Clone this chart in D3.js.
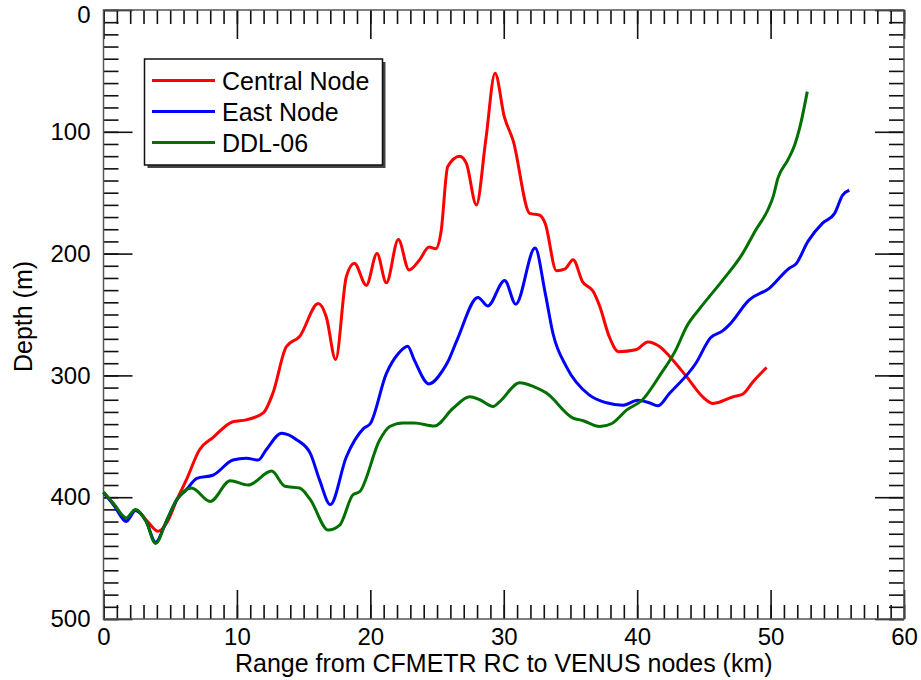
<!DOCTYPE html>
<html>
<head>
<meta charset="utf-8">
<script src="https://cdn.jsdelivr.net/npm/d3@7"></script>
<style>
  body { margin: 0; background: #fff; }
  text { font-family: "Liberation Sans", Arial, Helvetica, sans-serif; fill: #000; }
</style>
</head>
<body>
<div id="my_dataviz"></div>
<script>
// series data: [range (km), depth (m)]
var central = [
  [0, 396], [0.8, 406], [1.7, 418], [2.4, 410.5], [3.3, 420], [4.1, 428], [4.8, 420],
  [5.5, 402], [6.2, 386], [7.2, 361], [8.2, 351], [9.7, 338], [10.7, 336.5], [12.0, 330.5],
  [12.7, 314.5], [13.7, 276.5], [14.7, 268], [16.1, 241], [16.7, 252], [17.4, 287],
  [18.2, 219], [18.8, 208], [19.7, 226], [20.5, 200], [21.2, 224], [22.1, 188.5],
  [22.9, 213.5], [23.7, 205], [24.4, 194.5], [24.9, 196], [25.3, 182], [25.8, 128.5],
  [26.7, 120], [27.2, 126], [27.95, 160], [28.65, 107], [29.35, 52], [30.05, 88],
  [30.7, 107], [31.95, 167], [32.7, 168.5], [33.1, 175], [33.95, 214], [34.6, 212.5],
  [35.2, 205], [35.9, 223], [36.7, 231], [37.2, 243.5], [37.9, 268], [38.6, 280.5],
  [39.9, 279], [40.8, 272.5], [41.7, 276.5], [42.4, 284], [43.7, 301], [44.9, 317.5],
  [45.7, 323], [47.2, 317.5], [47.9, 315.5], [48.7, 305], [49.7, 293.5]
]
var east = [
  [0, 396], [0.8, 407], [1.7, 420], [2.4, 411], [3.2, 420], [3.9, 437], [4.7, 420],
  [5.5, 402], [6.2, 394], [7.0, 384.5], [8.2, 382], [9.7, 369.5], [10.7, 368], [11.6, 369.5],
  [12.2, 361], [13.35, 347.5], [14.5, 353], [15.5, 364], [16.2, 386], [17.0, 406],
  [18.2, 367], [19.5, 343.5], [20.0, 339.5], [21.2, 298.5], [22.1, 282], [22.8, 276],
  [23.3, 287.5], [24.4, 307], [25.45, 295.5], [25.8, 289], [26.5, 271], [28.07, 236],
  [28.8, 243], [30.07, 222], [30.9, 241.5], [32.35, 195.5], [33.1, 232], [33.7, 266],
  [34.7, 293], [36.4, 316], [37.7, 322.5], [38.9, 324.5], [40.05, 320.5], [40.9, 322.5],
  [41.55, 325], [42.4, 315], [44.4, 290], [45.5, 269], [46.4, 263.5], [46.9, 258.5],
  [48.4, 238], [49.9, 228.5], [51.4, 212], [51.9, 208.5], [52.8, 190], [53.9, 175],
  [54.8, 167], [55.4, 152], [55.9, 148]
]
var ddl06 = [
  [0, 396], [0.8, 406], [1.7, 417], [2.4, 410], [3.2, 420], [3.9, 438], [4.7, 420],
  [5.5, 402], [6.6, 392.5], [8.0, 403.5], [9.5, 386.5], [10.85, 390], [12.6, 378.5],
  [13.6, 391], [14.7, 392.5], [15.5, 402], [16.85, 427], [17.7, 423], [18.7, 398],
  [19.2, 395.5], [20.7, 353], [21.45, 342], [22.45, 339], [23.3, 339], [24.8, 341.5],
  [26.2, 327], [27.45, 317.5], [28.2, 320], [29.2, 325.5], [29.7, 321.5], [31.2, 306],
  [32.2, 309], [33.2, 314.5], [35.2, 335], [35.9, 337], [37.2, 342], [38.1, 339.5],
  [39.2, 328.5], [40.4, 320], [41.7, 300], [42.9, 279], [43.7, 260], [44.7, 245],
  [46.4, 222], [47.9, 200], [48.9, 180.5], [49.8, 164], [50.2, 153], [50.55, 138],
  [51.3, 123], [51.8, 111], [52.2, 96], [52.75, 67]
]

var seriesNames = ["Central Node", "East Node", "DDL-06"]
var seriesColors = ["#ff0000", "#0000ff", "#007000"]
var xMajor = [0, 10, 20, 30, 40, 50, 60]
var yMajor = [0, 100, 200, 300, 400, 500]

var width = 921, height = 680
var plot = { left: 103.5, right: 904, top: 10, bottom: 619 }

var svg = d3.select("#my_dataviz")
  .append("svg")
  .attr("width", width)
  .attr("height", height)

var x = d3.scaleLinear().domain([0, 60]).range([plot.left, plot.right])
var y = d3.scaleLinear().domain([0, 500]).range([plot.top, plot.bottom])

//------------------------------------------------------------------------//
// ticks on all four sides, pointing inward
function styleTicks(g) {
  g.select(".domain").remove()
  g.selectAll(".tick line").attr("stroke", "#111").attr("stroke-width", 1.6)
}

var minorX = d3.range(0, 61, 1), minorY = d3.range(0, 501, 10)

// bottom
svg.append("g").attr("transform", "translate(0," + plot.bottom + ")")
  .call(d3.axisBottom(x).tickValues(minorX).tickSize(-14).tickFormat(""))
  .call(styleTicks)
svg.append("g").attr("transform", "translate(0," + plot.bottom + ")")
  .call(d3.axisBottom(x).tickValues(xMajor).tickSize(-29).tickPadding(9).tickFormat(d3.format("d")))
  .call(styleTicks)
  .selectAll("text").style("font-size", "24px")
// top
svg.append("g").attr("transform", "translate(0," + plot.top + ")")
  .call(d3.axisTop(x).tickValues(minorX).tickSize(-14).tickFormat(""))
  .call(styleTicks)
svg.append("g").attr("transform", "translate(0," + plot.top + ")")
  .call(d3.axisTop(x).tickValues(xMajor).tickSize(-29).tickFormat(""))
  .call(styleTicks)
// left
svg.append("g").attr("transform", "translate(" + plot.left + ",0)")
  .call(d3.axisLeft(y).tickValues(minorY).tickSize(-15).tickFormat(""))
  .call(styleTicks)
var yAxisG = svg.append("g").attr("transform", "translate(" + plot.left + ",0)")
  .call(d3.axisLeft(y).tickValues(yMajor).tickSize(-29).tickPadding(13).tickFormat(d3.format("d")))
  .call(styleTicks)
yAxisG.selectAll("text").style("font-size", "24px")
// keep the top "0" label inside the page
yAxisG.selectAll("text").filter(function(d) { return d === 0 }).attr("y", 5)
// right
svg.append("g").attr("transform", "translate(" + plot.right + ",0)")
  .call(d3.axisRight(y).tickValues(minorY).tickSize(-15).tickFormat(""))
  .call(styleTicks)
svg.append("g").attr("transform", "translate(" + plot.right + ",0)")
  .call(d3.axisRight(y).tickValues(yMajor).tickSize(-29).tickFormat(""))
  .call(styleTicks)

// frame
svg.append("rect")
  .attr("x", plot.left).attr("y", plot.top)
  .attr("width", plot.right - plot.left).attr("height", plot.bottom - plot.top)
  .attr("fill", "none").attr("stroke", "#555").attr("stroke-width", 1.5)

//-- axis labels --//
svg.append("text")
  .attr("text-anchor", "middle")
  .attr("x", (plot.left + plot.right) / 2)
  .attr("y", 672)
  .style("font-size", "25px")
  .text("Range from CFMETR RC to VENUS nodes (km)")
svg.append("text")
  .attr("text-anchor", "middle")
  .attr("transform", "translate(32," + ((plot.top + plot.bottom) / 2 + 2) + ")rotate(-90)")
  .style("font-size", "25px")
  .text("Depth (m)")

//------------------------------------------------------------------------//
// lines
var line = d3.line()
  .x(function(d) { return x(d[0]) })
  .y(function(d) { return y(d[1]) })
  .curve(d3.curveMonotoneX)

var allSeries = [central, east, ddl06]
allSeries.forEach(function(s, i) {
  svg.append("path")
    .datum(s)
    .attr("fill", "none")
    .attr("stroke", seriesColors[i])
    .attr("stroke-width", 3)
    .attr("stroke-linejoin", "round")
    .attr("d", line)
})

//------------------------------------------------------------------------//
// legend with drop shadow
var lg = { x: 144.5, y: 59, w: 238, h: 106 }
svg.append("rect")
  .attr("x", lg.x + 3).attr("y", lg.y + 3).attr("width", lg.w).attr("height", lg.h)
  .attr("fill", "#444")
svg.append("rect")
  .attr("x", lg.x).attr("y", lg.y).attr("width", lg.w).attr("height", lg.h)
  .attr("fill", "#fff").attr("stroke", "#111").attr("stroke-width", 1.5)

seriesNames.forEach(function(name, i) {
  var cy = 80.5 + i * 31
  svg.append("line")
    .attr("x1", 152).attr("x2", 215).attr("y1", cy).attr("y2", cy)
    .attr("stroke", seriesColors[i]).attr("stroke-width", 3)
  svg.append("text")
    .attr("x", 222).attr("y", cy + 9.5)
    .style("font-size", "25px")
    .text(name)
})
</script>
</body>
</html>
